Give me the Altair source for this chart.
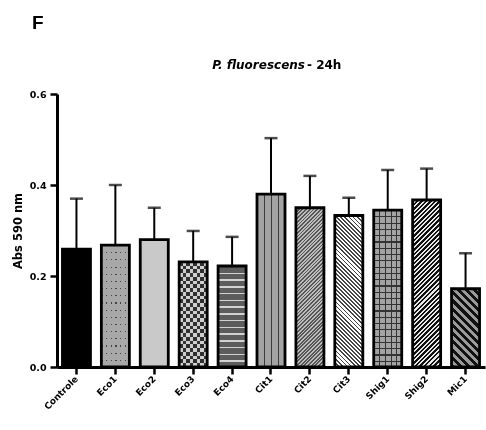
import math
import altair as alt
import pandas as pd

# ---- data ----
categories = ["Controle", "Eco1", "Eco2", "Eco3", "Eco4", "Cit1", "Cit2", "Cit3", "Shig1", "Shig2", "Mic1"]
means = [0.259, 0.268, 0.280, 0.231, 0.222, 0.380, 0.350, 0.333, 0.345, 0.367, 0.172]
errors = [0.111, 0.132, 0.070, 0.068, 0.064, 0.123, 0.070, 0.039, 0.088, 0.069, 0.078]
y_ticks = [0.0, 0.2, 0.4, 0.6]
panel_letter = ["F"]
title_italic = ["P. fluorescens"]
title_plain = ["- 24h"]
y_title = "Abs 590 nm"

df = pd.DataFrame({"cat": categories, "mean": means, "err": errors})
df["upper"] = df["mean"] + df["err"]

# ---- layout ----
W, H = 428, 273
PAD_IN = 0.28
step = W / len(categories)
bw = step * (1 - PAD_IN)
ppu = H / 0.6

FONT = "DejaVu Sans"
TFONT = "Liberation Sans"
TRANSP = "rgba(0,0,0,0)"


def grad(kind, w, h, period, base, line, frac):
    s2 = math.sqrt(2)
    if kind == "h":
        x1, y1, x2, y2, L = 0, 0, 0, 1, h
    elif kind == "v":
        x1, y1, x2, y2, L = 0, 0, 1, 0, w
    elif kind == "/":
        k = (w + h) / (w * w + h * h)
        x1, y1, x2, y2, L = 0, 0, w * k, h * k, (w + h) / s2
    else:  # "\\"
        k = (w + h) / (w * w + h * h)
        x1, y1, x2, y2, L = 0, 1, w * k, 1 - h * k, (w + h) / s2
    n = max(1, round(L / period))
    stops = []
    for i in range(n):
        o0 = i / n
        o1 = min(1.0, (i + frac) / n)
        o2 = min(1.0, (i + 1) / n)
        stops += [
            {"offset": o0, "color": line},
            {"offset": o1, "color": line},
            {"offset": o1, "color": base},
            {"offset": o2, "color": base},
        ]
    return {"gradient": "linear", "x1": x1, "y1": y1, "x2": x2, "y2": y2, "stops": stops}


def layers_for(cat, v):
    w, h = bw, v * ppu
    if cat == "Controle":
        return [("#000000", None)]
    if cat == "Eco1":
        return [
            (grad("h", w, h, 7, "#a8a8a8", "#444444", 0.15), None),
            (grad("v", w, h, 4.6, "#a8a8a8", TRANSP, 0.25), None),
        ]
    if cat == "Eco2":
        return [("#c9c9c9", None)]
    if cat == "Eco3":
        return [
            (grad("v", w, h, 7, "#333333", "#d0d0d0", 0.5), None),
            (grad("h", w, h, 7.5, TRANSP, "#ffffff", 0.5), "difference"),
        ]
    if cat == "Eco4":
        return [(grad("h", w, h, 6.7, "#5c5c5c", "#d2d2d2", 0.22), None)]
    if cat == "Cit1":
        return [(grad("v", w, h, 7, "#a3a3a3", "#3c3c3c", 0.15), None)]
    if cat == "Cit2":
        return [(grad("/", w, h, 2.6, "#bdbdbd", "#555555", 0.5), None)]
    if cat == "Cit3":
        return [(grad("\\", w, h, 2.9, "#ffffff", "#444444", 0.45), None)]
    if cat == "Shig1":
        return [
            (grad("v", w, h, 6.2, "#a3a3a3", "#333333", 0.18), None),
            (grad("h", w, h, 6.2, TRANSP, "#333333", 0.18), None),
        ]
    if cat == "Shig2":
        return [(grad("/", w, h, 3.2, "#e8e8e8", "#111111", 0.55), None)]
    if cat == "Mic1":
        return [(grad("\\", w, h, 5.8, "#9a9a9a", "#111111", 0.5), None)]
    return [("#888888", None)]


x_enc = alt.X(
    "cat:N",
    sort=categories,
    scale=alt.Scale(domain=categories, paddingInner=PAD_IN, paddingOuter=PAD_IN / 2),
    axis=alt.Axis(
        title=None,
        labelAngle=-45,
        labelAlign="right",
        labelBaseline="middle",
        labelFont=FONT,
        labelFontSize=9,
        labelFontWeight="bold",
        labelColor="black",
        labelPadding=3,
        tickSize=7,
        tickWidth=2.5,
        tickColor="black",
        domainWidth=3,
        domainColor="black",
    ),
)
y_enc = alt.Y(
    "mean:Q",
    scale=alt.Scale(domain=[0, 0.6], nice=False),
    axis=alt.Axis(
        values=y_ticks,
        format=".1f",
        title=y_title,
        titleFont=FONT,
        titleFontSize=11.5,
        titleFontWeight="bold",
        titleColor="black",
        titleAngle=270,
        titleAlign="center",
        titleBaseline="middle",
        titleX=-39,
        titleY=H / 2,
        labelFont=FONT,
        labelFontSize=9.5,
        labelFontWeight="bold",
        labelColor="black",
        labelPadding=4,
        tickSize=7,
        tickWidth=2.5,
        tickColor="black",
        domainWidth=3,
        domainColor="black",
        grid=False,
    ),
)

base = alt.Chart(df).encode(x=x_enc, y=y_enc)

layers = []
for c, v in zip(categories, means):
    for fill, blend in layers_for(c, v):
        kw = {"fill": fill, "strokeWidth": 0}
        if blend:
            kw["blend"] = blend
        layers.append(base.transform_filter(alt.datum.cat == c).mark_bar(**kw))

outline = base.mark_bar(fillOpacity=0, stroke="black", strokeWidth=2.8)
err_line = base.mark_rule(color="black", strokeWidth=2).encode(y="mean:Q", y2="upper:Q")
err_cap = base.mark_tick(color="black", size=13, thickness=2.5).encode(y="upper:Q")

letter = alt.Chart(pd.DataFrame({"t": panel_letter})).mark_text(
    font=TFONT, fontSize=19, fontWeight="bold", align="left", baseline="alphabetic", color="black"
).encode(text="t:N", x=alt.value(-25), y=alt.value(-65))

t1 = alt.Chart(pd.DataFrame({"t": title_italic})).mark_text(
    font=FONT, fontSize=12, fontWeight="bold", fontStyle="italic", align="right",
    baseline="alphabetic", color="black"
).encode(text="t:N", x=alt.value(248), y=alt.value(-25))

t2 = alt.Chart(pd.DataFrame({"t": title_plain})).mark_text(
    font=FONT, fontSize=12, fontWeight="bold", align="left", baseline="alphabetic", color="black"
).encode(text="t:N", x=alt.value(250), y=alt.value(-25))

chart = alt.layer(*layers, outline, err_line, err_cap, letter, t1, t2).properties(
    width=W,
    height=H,
    autosize=alt.AutoSizeParams(type="none"),
    padding={"left": 57, "top": 94, "right": 1, "bottom": 63},
    background="white",
).configure_view(stroke=None)

chart.save("out.html", embed_options={"renderer": "svg", "actions": False})
